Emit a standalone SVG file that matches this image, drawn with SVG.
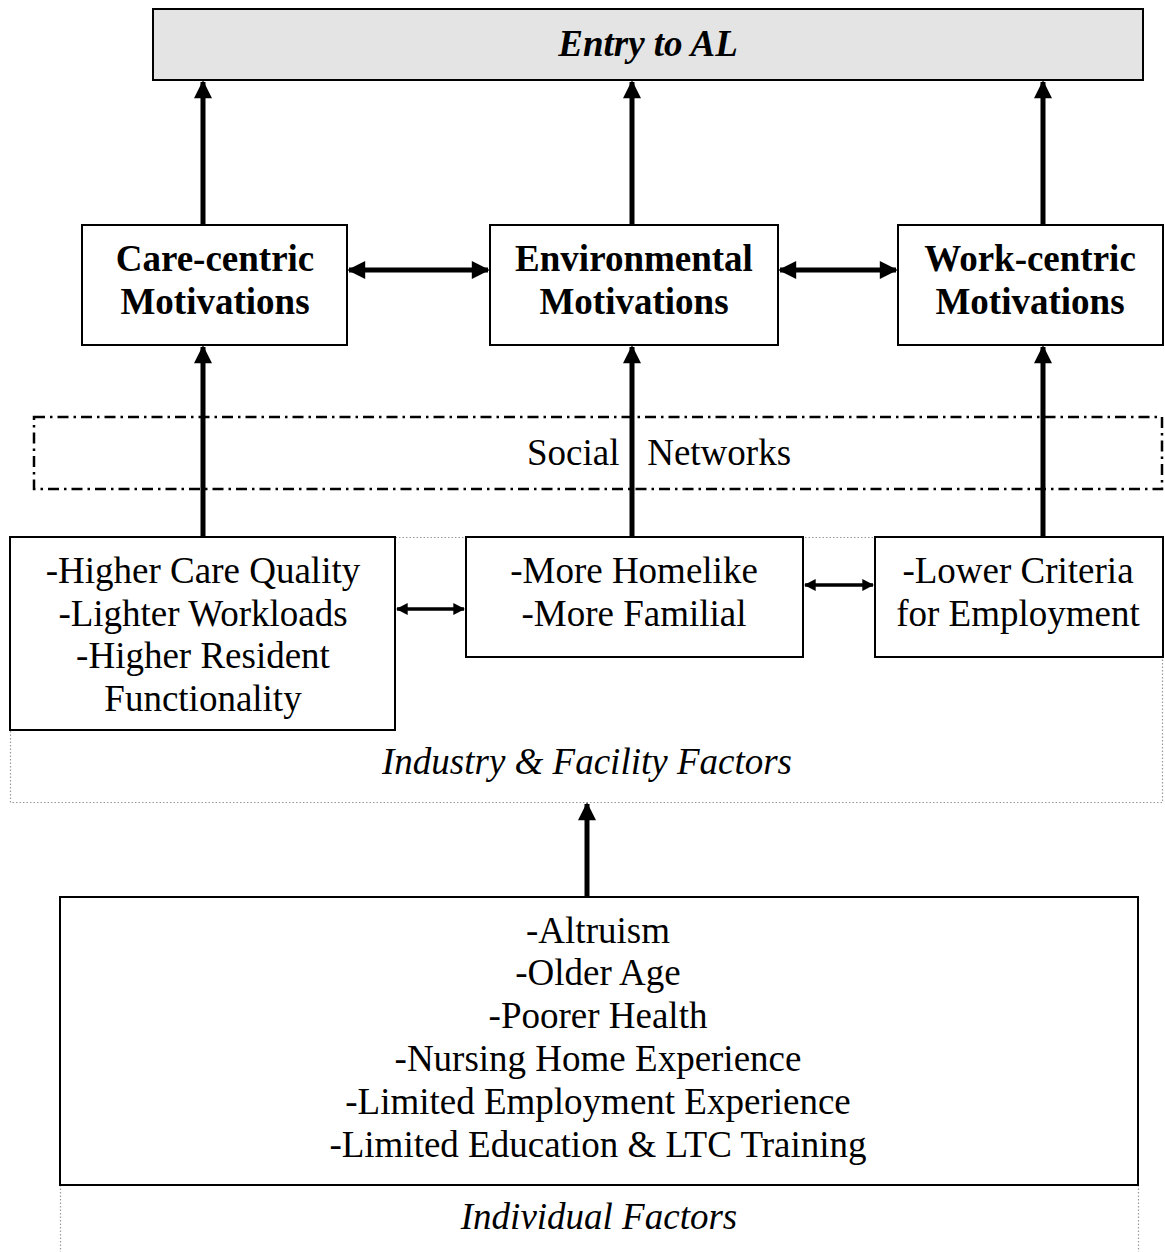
<svg xmlns="http://www.w3.org/2000/svg" width="1165" height="1252" viewBox="0 0 1165 1252">
<style>
text{font-family:"Liberation Serif","Times New Roman",serif;font-size:37px;fill:#000;text-anchor:middle}
.b{font-weight:bold}
.i{font-style:italic}
.box{fill:#fff;stroke:#000;stroke-width:2}
.dot{fill:none;stroke:#999;stroke-width:1.2;stroke-dasharray:1.5 2}
.dd{fill:none;stroke:#000;stroke-width:2.5;stroke-dasharray:11 5 2.5 5}
.c{stroke:#000;stroke-width:5;fill:none}
</style>
<defs>
<marker id="ah" viewBox="0 0 10 10" refX="9" refY="5" markerWidth="4" markerHeight="3.6" orient="auto-start-reverse" markerUnits="strokeWidth">
<path d="M0,0 L10,5 L0,10 z" fill="#000"/>
</marker>
<marker id="ah2" viewBox="0 0 10 10" refX="9" refY="5" markerWidth="3.4" markerHeight="3.4" orient="auto-start-reverse" markerUnits="strokeWidth">
<path d="M0,0 L10,5 L0,10 z" fill="#000"/>
</marker>
</defs>
<g id="industry-frame"><rect class="dot" x="10.5" y="537.5" width="1152" height="265"/></g>
<g id="individual-frame"><path class="dot" d="M60.5,1185 V1252 M1138.5,1185 V1252"/></g>
<g id="entry"><rect x="153" y="9" width="990" height="71" fill="#e4e4e4" stroke="#000" stroke-width="2"/><text class="b i" x="648" y="56">Entry to AL</text></g>
<g id="care"><rect class="box" x="82" y="225" width="265" height="120"/><text class="b" x="215" y="271">Care-centric</text><text class="b" x="215" y="314">Motivations</text></g>
<g id="env"><rect class="box" x="490" y="225" width="288" height="120"/><text class="b" x="634" y="271">Environmental</text><text class="b" x="634" y="314">Motivations</text></g>
<g id="work"><rect class="box" x="898" y="225" width="265" height="120"/><text class="b" x="1030" y="271">Work-centric</text><text class="b" x="1030" y="314">Motivations</text></g>
<g id="social"><rect class="dd" x="34" y="417" width="1128" height="72"/><text x="659" y="465" xml:space="preserve">Social   Networks</text></g>
<g id="f1"><rect class="box" x="10" y="537" width="385" height="193"/><text x="203" y="583">-Higher Care Quality</text><text x="203" y="626">-Lighter Workloads</text><text x="203" y="668">-Higher Resident</text><text x="203" y="711">Functionality</text></g>
<g id="f2"><rect class="box" x="466" y="537" width="337" height="120"/><text x="634" y="583">-More Homelike</text><text x="634" y="626">-More Familial</text></g>
<g id="f3"><rect class="box" x="875" y="537" width="288" height="120"/><text x="1018" y="583">-Lower Criteria</text><text x="1018" y="626">for Employment</text></g>
<g id="industry-label"><text class="i" x="587" y="774">Industry &amp; Facility Factors</text></g>
<g id="individual"><rect class="box" x="60" y="897" width="1078" height="288"/>
<text x="598" y="943">-Altruism</text><text x="598" y="985">-Older Age</text><text x="598" y="1028">-Poorer Health</text><text x="598" y="1071">-Nursing Home Experience</text><text x="598" y="1114">-Limited Employment Experience</text><text x="598" y="1157">-Limited Education &amp; LTC Training</text></g>
<g id="individual-label"><text class="i" x="599" y="1229">Individual Factors</text></g>
<g id="connectors">
<line class="c" x1="203" y1="225" x2="203" y2="82" marker-end="url(#ah)"/>
<line class="c" x1="632" y1="225" x2="632" y2="82" marker-end="url(#ah)"/>
<line class="c" x1="1043" y1="225" x2="1043" y2="82" marker-end="url(#ah)"/>
<line class="c" x1="203" y1="536" x2="203" y2="347" marker-end="url(#ah)"/>
<line class="c" x1="632" y1="536" x2="632" y2="347" marker-end="url(#ah)"/>
<line class="c" x1="1043" y1="536" x2="1043" y2="347" marker-end="url(#ah)"/>
<line class="c" x1="587" y1="896" x2="587" y2="804" marker-end="url(#ah)"/>
<line class="c" x1="349" y1="270" x2="488" y2="270" marker-start="url(#ah)" marker-end="url(#ah)"/>
<line class="c" x1="780" y1="270" x2="896" y2="270" marker-start="url(#ah)" marker-end="url(#ah)"/>
<line x1="397" y1="609" x2="464" y2="609" stroke="#000" stroke-width="3.5" marker-start="url(#ah2)" marker-end="url(#ah2)"/>
<line x1="805" y1="585" x2="873" y2="585" stroke="#000" stroke-width="3.5" marker-start="url(#ah2)" marker-end="url(#ah2)"/>
</g>
</svg>
